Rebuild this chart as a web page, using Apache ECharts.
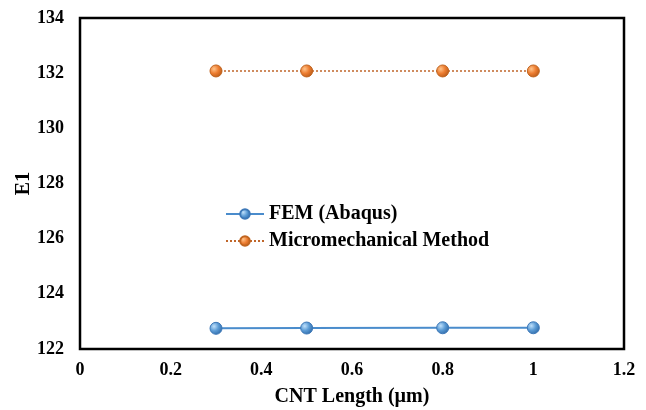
<!DOCTYPE html>
<html>
<head>
<meta charset="utf-8">
<script src="https://cdn.jsdelivr.net/npm/echarts@6/dist/echarts.min.js"></script>
<style>
  html, body { margin: 0; padding: 0; background: #fff; }
  #chart { width: 646px; height: 410px; }
</style>
</head>
<body>
<div id="chart"></div>
<script>
var lengths = [0.3, 0.5, 0.8, 1.0];
var femValues = [122.75, 122.76, 122.77, 122.77];
var microValues = [132.08, 132.08, 132.08, 132.08];

function pairs(xs, ys) {
  return xs.map(function (x, i) { return [x, ys[i]]; });
}

function ball(light, mid, dark) {
  return new echarts.graphic.RadialGradient(0.35, 0.35, 0.7, [
    { offset: 0, color: light },
    { offset: 0.5, color: mid },
    { offset: 1, color: dark }
  ]);
}

var font = 'Liberation Serif';
var chart = echarts.init(document.getElementById('chart'));

chart.setOption({
  backgroundColor: '#ffffff',
  animation: false,
  grid: {
    left: 80, right: 22, top: 18, bottom: 61,
    outerBoundsMode: 'none', containLabel: false,
    show: true, borderColor: '#000', borderWidth: 2.5
  },
  legend: {
    orient: 'vertical',
    left: 220,
    top: 199,
    itemWidth: 38,
    itemHeight: 12,
    itemGap: 7,
    textStyle: { fontFamily: font, fontWeight: 'bold', fontSize: 20, color: '#000' },
    data: ['FEM (Abaqus)', 'Micromechanical Method']
  },
  xAxis: {
    type: 'value',
    min: 0,
    max: 1.2,
    interval: 0.2,
    name: 'CNT Length (µm)',
    nameLocation: 'middle',
    nameGap: 38,
    nameTextStyle: { fontFamily: font, fontWeight: 'bold', fontSize: 20, color: '#000' },
    axisLine: { show: false },
    axisTick: { show: false },
    splitLine: { show: false },
    axisLabel: {
      fontFamily: font, fontWeight: 'bold', fontSize: 18, color: '#000', margin: 12,
      formatter: function (v) { return String(parseFloat(v.toFixed(1))); }
    }
  },
  yAxis: {
    type: 'value',
    min: 122,
    max: 134,
    interval: 2,
    name: 'E1',
    nameLocation: 'middle',
    nameGap: 46,
    nameMoveOverlap: false,
    nameTextStyle: { fontFamily: font, fontWeight: 'bold', fontSize: 20, color: '#000' },
    axisLine: { show: false },
    axisTick: { show: false },
    splitLine: { show: false },
    axisLabel: { fontFamily: font, fontWeight: 'bold', fontSize: 18, color: '#000', margin: 16 }
  },
  series: [
    {
      name: 'FEM (Abaqus)',
      type: 'line',
      data: pairs(lengths, femValues),
      symbol: 'circle',
      symbolSize: 12,
      lineStyle: { color: '#4a8ccc', width: 2 },
      itemStyle: { color: ball('#bfe0fb', '#5b9bd5', '#2e6aa8'), borderColor: '#3d78b8', borderWidth: 1 }
    },
    {
      name: 'Micromechanical Method',
      type: 'line',
      data: pairs(lengths, microValues),
      symbol: 'circle',
      symbolSize: 12,
      lineStyle: { color: '#c0662a', width: 1.5, type: [2, 2] },
      itemStyle: { color: ball('#ffc48a', '#ed7d31', '#b85a17'), borderColor: '#c0641f', borderWidth: 1 }
    }
  ]
});
</script>
</body>
</html>
